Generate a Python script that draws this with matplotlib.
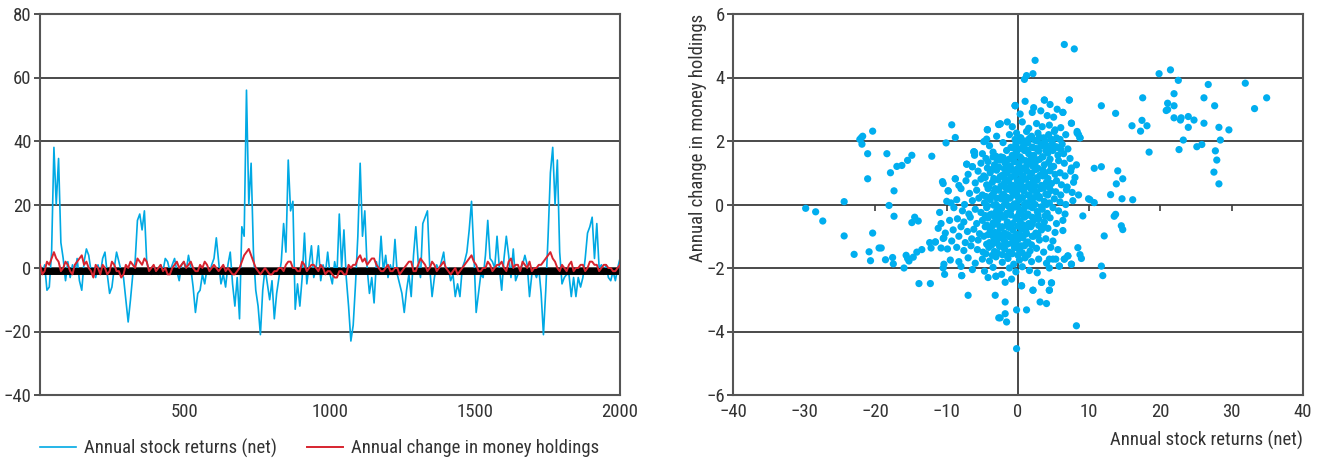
import numpy as np
import matplotlib
matplotlib.use("Agg")
import matplotlib.pyplot as plt

plt.rcParams["font.family"] = ["Roboto Condensed", "Archivo Narrow", "Liberation Sans Narrow", "DejaVu Sans"]

# ---- left panel: simulated series ----
blue_y = [
    1, -2, 1, -7, -6, 5, 38, 20, 34.5, 8,
    3, -4, 2, -3, 1, -2, 3, -4, -7, 2,
    6, 4, -1, 0, -3, 1, -2, 3, 5, -2,
    -8, -6, 0, 5, 2, -1, -3, -10, -17, -10,
    -2, 2, 15, 17, 12, 18, 2, -1, -2, 0,
    -1, -2, 1, -1, 3, 2, -1, 1, 3, -1,
    -4, 1, 2, -1, 4, 0, -6, -14, -8, -7,
    -2, -5, 0, -2, 1, 3, 9.5, 2, -5, -2,
    -6, 1, 5, -5, -12, -3, -16, 13, 10, 56,
    20, 33, 5, -7, -12, -21, -7, 0, -5, -10,
    -4, -16, -8, -3, 2, 14, 5, 34, 18, 21,
    -13, -5, -12, -3, 11, -5, 1, 7, -3, 0,
    7, -4, 1, -2, 5, -2, -5, 2, -2, 17,
    0, 12, -3, -12, -23, -18, -5, 10, 33, 10,
    18, 0, -8, -3, -11, 2, -2, 10, -1, 4,
    -3, 1, -2, 9, -2, -5, -8, -14, -7, -2,
    -9, 4, 13, 2, -3, 14, 16, 18, 0, -9,
    -3, 1, -1, 2, 5, -2, 0, -4, -2, -9,
    -5, -9, 0, 2, 5, 12, 21, 5, -14, -8,
    -2, -3, 4, 15, 3, 2, 0, 10, 0, -7,
    3, 10, 4, -3, 6, -4, -2, 0, 1, 4,
    1, -9, -2, -1, -3, 0, -8, -21, -7, 10,
    30, 38, 20, 34, 5, -5, -3, -2, -2, -9,
    -3, -9, -3, -6, -3, 3, 11, 13, 16, 3,
    14, 0, 1, -2, 1, -3, -4, -1, -4, 0,
    3,
]
red_y = [
    1, -2, -1, 2, 1, 3, 5, 3, 2, -1, 0, 2, 1, -1, -2, 1, 2, 3, 4, 1,
    2, 0, -1, -3, 1, 0, -2, 1, 0, -2, -1, 2, 1, -1, -1, -3, -2, 1, 0, 2,
    1, 0, 3, 2, 1, 3, 2, -1, 0, 1, -1, 0, 1, -1, 0, -2, -2, 0, 1, 2,
    0, 1, 2, 0, 1, 2, 0, -1, -1, 1, 0, 2, 1, -1, 0, 1, 0, -1, 0, 1,
    -1, 0, -1, -2, -2, -1, 0, 2, 4, 5, 6, 4, 2, 0, -1, -2, -1, 0, -1, -2,
    -2, -1, -1, 0, 0, -1, 1, 2, 2, 0, 0, -1, -1, 2, 1, -1, 0, 1, 1, 0,
    -1, 1, 0, -2, -1, -1, -2, -3, -3, -1, -1, -2, -2, 1, 0, 1, 1, 3, 4, 2,
    3, 1, 2, 3, 3, 1, 0, -1, -1, 0, 1, -1, -1, 0, 0, -2, -1, 0, 1, 2,
    2, -1, -1, 1, 3, 2, 1, -1, 0, 2, 1, -1, 0, 1, 2, 0, -1, -2, -1, 0,
    -2, -1, 0, 1, 2, 3, 4, 2, 1, -1, -1, 0, 0, 2, 1, -1, 0, 1, 1, 2,
    0, -1, 2, 3, 0, 1, 1, -1, 2, 1, 0, 2, -1, 0, 0, 1, 1, 2, 3, 4,
    5, 3, 2, 0, -1, 1, 0, -1, 1, 2, -1, 0, 0, 1, 1, -1, 0, 2, 2, 1,
    1, -1, 0, 1, 1, 0, 0, -1, -1, 0, 1,
]
blue_t = np.linspace(0, 2000, len(blue_y))
red_t = np.linspace(0, 2000, len(red_y))

# ---- right panel: scatter (stock returns vs money change) ----
stock_ret = [
    # outliers, left side
    -29.8, -28.4, -27.4, -24.4, -24.4, -23.0, -22.0, -21.8, -22.2, -21.9, -20.4, -21.1, -21.1,
    -20.4, -20.9, -20.7, -19.5, -19.2, -18.4, -18.6, -17.9, -17.6, -17.5, -18.1, -17.4, -17.4,
    -17.0, -16.3, -15.5, -14.9, -16.0, -15.7, -15.5, -15.3, -14.9, -14.5, -14.0, -14.7, -14.2,
    -13.5, -13.9, -12.3, -12.1, -12.4, -12.2, -11.6, -10.8, -10.5, -10.4, -10.5, -10.3, -9.3,
    -8.8, -10.1, -8.8, -9.8, -7.9, -7.0, -7.2, -6.1, -6.4, -4.8, -4.4, -4.3, -3.2, -3.1, -2.7,
    -2.7, -3.1, -6.2, -2.5, -0.4,
    # outliers, right / top / bottom
    6.5, 7.9, 2.4, 2.1, 1.2, 0.9, -0.4, 3.7, 7.2, 6.3, 7.5, 8.3, 8.7, 8.5, 11.7, 13.7, 10.7,
    11.7, 14.0, 14.7, 13.8, 13.0, 14.6, 16.1, 9.9, 10.1, 10.7, 9.1, 13.7, 13.5, 14.5, 14.7,
    12.1, 11.7, 11.9, 8.4, 8.7, 8.9, 8.2, -0.2, -0.2, 1.2, -1.6, -1.8, -2.5, -1.8, 3.1, 4.0,
    0.5, 2.1, 4.4, 4.7, 3.3, 5.8, 4.4, 4.9, 5.3, 6.5, 7.0, 7.5,
    # upper-right group
    19.8, 21.4, 22.5, 26.7, 31.9, 34.9, 33.2, 17.5, 21.9, 21.0, 21.9, 20.8, 21.0, 26.1, 27.6,
    21.9, 22.9, 22.8, 23.9, 24.7, 23.9, 26.1, 28.2, 29.6, 17.4, 17.2, 18.1, 16.0, 23.2, 22.6,
    25.1, 25.8, 28.4, 27.7, 27.9, 27.5, 28.2, 18.4,
    # main cloud
    -0.4, 1.0, 3.7, 4.5, 2.2, 5.5, 7.2,
    -2.7, 0.3, 2.0, 3.2, 4.1, 5.0, 6.3, -1.5,
    -4.3, -2.5, -0.8, 0.6, 1.5, 2.6, 3.4, 4.4, 5.2, 6.0, 7.5,
    -4.6, -3.0, -1.2, -0.2, 0.4, 1.2, 1.9, 2.8, 3.6, 4.3, 5.1, 5.9, 6.7, 8.3, 8.7,
    -6.2, -4.0, -2.1, -1.0, -0.3, 0.2, 0.8, 1.4, 2.1, 2.7, 3.3, 4.0, 4.8, 5.5, 6.2, 7.0,
    -6.1, -5.0, -3.5, -2.4, -1.6, -0.8, -0.2, 0.3, 0.9, 1.5, 2.2, 2.9, 3.5, 4.2, 4.9, 5.6, 6.4, 7.3,
    -7.2, -6.4, -5.2, -4.2, -3.3, -2.5, -1.8, -1.1, -0.5, 0.1, 0.6, 1.2, 1.8, 2.4, 3.0, 3.7, 4.3,
    5.0, 5.7, 6.5, 7.5, 8.2,
    -8.8, -7.0, -5.6, -4.8, -3.9, -3.0, -2.2, -1.5, -0.9, -0.3, 0.2, 0.7, 1.3, 1.9, 2.5, 3.1, 3.8,
    4.5, 5.2, 5.9, 6.6, 7.4, 8.0,
    -10.6, -10.5, -8.3, -7.3, -6.0, -5.2, -4.4, -3.6, -2.8, -2.0, -1.3, -0.7, -0.1, 0.4, 0.9, 1.5,
    2.1, 2.7, 3.3, 4.0, 4.7, 5.4, 6.1, 6.9, 7.8,
    -9.8, -8.0, -6.8, -5.8, -5.0, -4.2, -3.4, -2.7, -2.0, -1.4, -0.8, -0.2, 0.3, 0.8, 1.4, 2.0,
    2.6, 3.2, 3.9, 4.6, 5.3, 6.0, 6.8, 7.6, 8.5,
    -10.0, -9.4, -8.6, -7.5, -6.4, -5.5, -4.7, -3.9, -3.1, -2.4, -1.7, -1.1, -0.5, 0.1, 0.6, 1.2,
    1.8, 2.4, 3.0, 3.7, 4.4, 5.1, 5.9, 6.7, 7.7,
    -11.0, -9.0, -7.8, -6.9, -6.0, -5.2, -4.4, -3.7, -3.0, -2.3, -1.6, -1.0, -0.4, 0.2, 0.8, 1.4,
    2.0, 2.7, 3.4, 4.1, 4.9, 5.7, 6.6,
    -10.8, -9.6, -8.5, -7.6, -6.7, -5.8, -5.0, -4.2, -3.5, -2.8, -2.1, -1.5, -0.9, -0.3, 0.3, 0.9,
    1.5, 2.2, 2.9, 3.7, 4.5, 5.4, 6.3,
    -11.2, -10.2, -9.1, -8.0, -7.1, -6.2, -5.4, -4.6, -3.9, -3.2, -2.5, -1.9, -1.3, -0.7, -0.1, 0.5,
    1.1, 1.8, 2.5, 3.3, 4.2, 5.2, 6.3,
    -11.6, -10.4, -9.3, -8.3, -7.4, -6.5, -5.6, -4.8, -4.0, -3.3, -2.6, -1.9, -1.2, -0.6, 0.0, 0.7,
    1.4, 2.2, 3.0, 3.9, 4.9,
    -9.9, -8.6, -7.6, -6.6, -5.7, -4.9, -4.1, -3.3, -2.6, -1.9, -1.2, -0.5, 0.2, 0.9, 1.7, 2.6, 3.6,
    4.6, 5.6,
    -9.5, -8.3, -7.0, -6.0, -5.0, -4.0, -3.1, -2.2, -1.4, -0.6, 0.2, 1.0, 1.9, 2.9, 4.0, 6.5, 7.0, 7.5,
    -8.0, -6.4, -4.7, -3.5, -2.3, -1.2, -0.3, 0.6, 1.6, 2.7, 4.4, 5.8,
    -7.9, -4.2, -3.1, -1.8, -0.9, 0.5, 2.1, 3.3, 4.4, 4.7,
    # dense core
    -4.5, -3.5, -2.9, -2.1, -1.3, -0.5, 0.5, 1.1, 1.9, 2.6, 3.4, 4.5,
    -4.3, -3.7, -2.7, -1.9, -1.1, -0.3, 0.4, 1.0, 2.1, 2.8, 3.5, 4.7,
    -4.6, -3.4, -2.5, -1.8, -1.0, -0.6, 0.5, 1.1, 1.7, 2.6, 3.5, 4.2,
    -4.1, -3.2, -2.4, -1.7, -1.0, -0.4, 0.2, 1.0, 1.8, 2.4, 3.6, 4.4,
    -4.5, -3.7, -3.0, -2.3, -1.5, -0.6, 0.0, 0.6, 1.6, 2.3, 3.0, 4.2,
    -4.3, -3.4, -2.7, -1.9, -1.3, -0.7, 0.0, 0.9, 1.5, 2.2, 3.3, 4.0,
    -4.6, -3.9, -3.3, -2.5, -1.8, -1.0, -0.1, 0.5, 1.2, 2.0, 2.8, 3.8,
    -4.4, -3.6, -2.9, -2.2, -1.5, -0.7, 0.0, 0.7, 1.4, 2.0, 2.9, 3.6,
    -4.2, -3.5, -2.8, -2.0, -1.4, -0.8, -0.2, 0.4, 1.2, 2.0, 2.8,
    -4.4, -3.7, -2.9, -2.2, -1.5, -0.9, -0.2, 0.4, 1.1, 1.9,
    -4.5, -3.6, -2.9, -2.2, -1.5, -0.8, 0.0, 0.6, 1.4,
    -0.6, 0.1, 0.7, 1.3, 2.0, 2.6, 3.2, 3.9, 4.6, 5.3, 6.0,
    -0.4, 0.3, 1.0, 1.6, 2.4, 3.0, 3.8, 4.6, 5.4,
]
money_chg = [
    -0.12, -0.23, -0.52, 0.09, -0.99, -1.57, 2.10, 2.15, 2.05, 1.90, 2.31, 1.60, 0.81,
    -0.90, -1.49, -1.77, -1.37, -1.37, 1.60, -1.74, 1.00, -1.67, -1.87, -0.03, 0.43, -0.37,
    1.20, 1.23, 1.39, 1.55, -2.00, -1.60, -1.70, -1.78, -0.57, -0.40, -0.52, -1.66, -1.50,
    -1.42, -2.49, -2.49, 1.52, -1.20, -1.37, -1.18, -1.37, -1.07, -1.88, -2.00, -2.20, 2.51,
    2.11, 1.94, 0.81, 0.43, -2.24, -2.86, 1.27, 1.65, 1.19, 1.98, 2.06, 2.36, -2.86, -2.26, -3.57,
    2.52, 1.52, 1.66, 2.54, 3.12,
    5.04, 4.90, 4.54, 4.12, 4.06, 3.94, 3.11, 3.29, 3.29, 2.90, 2.56, 2.30, 2.10, 2.20, 3.11, 2.87, 1.14,
    1.19, 1.06, 0.81, 0.65, 0.31, 0.18, 0.15, 0.18, 0.15, 0.06, -0.36, -0.31, -0.37, -0.67, -0.79,
    -0.99, -1.94, -2.24, -1.36, -1.58, -1.70, -3.82, -4.54, -3.32, -3.32, -3.70, -3.44, -3.57, -3.07, -3.07, -3.12,
    -2.56, -2.70, -2.70, -2.47, -2.45, -1.94, -1.72, -1.72, -1.72, -1.72, -1.62, -1.88,
    4.12, 4.24, 3.91, 3.78, 3.82, 3.36, 3.02, 3.36, 3.49, 3.19, 3.11, 2.96, 2.99, 3.36, 3.11,
    2.73, 2.73, 2.66, 2.77, 2.66, 2.43, 2.56, 2.43, 2.35, 2.65, 2.31, 2.48, 2.48, 2.03, 1.73,
    1.82, 1.89, 2.03, 1.69, 1.40, 1.02, 0.65, 1.65,
    3.11, 3.25, 3.29, 3.15, 3.05, 3.00, 3.29,
    2.52, 2.85, 2.90, 2.95, 2.80, 2.75, 2.90, 2.60,
    2.35, 2.54, 2.45, 2.60, 2.40, 2.55, 2.45, 2.50, 2.35, 2.42, 2.56,
    2.00, 2.15, 2.20, 2.25, 2.10, 2.30, 2.15, 2.25, 2.10, 2.20, 2.30, 2.05, 2.20, 2.25, 2.10,
    1.66, 1.85, 1.95, 1.80, 1.92, 2.00, 1.85, 1.95, 1.80, 2.00, 1.90, 1.85, 1.95, 1.80, 1.90, 1.75,
    1.55, 1.60, 1.65, 1.50, 1.70, 1.55, 1.65, 1.50, 1.70, 1.60, 1.55, 1.68, 1.50, 1.62, 1.70, 1.55, 1.60, 1.45,
    1.27, 1.19, 1.30, 1.35, 1.25, 1.40, 1.30, 1.20, 1.35, 1.28, 1.40, 1.22, 1.35, 1.30, 1.42, 1.25, 1.33,
    1.20, 1.38, 1.30, 1.15, 1.25,
    0.81, 0.95, 1.05, 0.90, 1.00, 1.08, 0.92, 1.00, 1.10, 0.95, 1.02, 0.90, 1.05, 0.98, 1.10, 0.92, 1.00,
    1.06, 0.95, 1.00, 0.90, 1.05, 0.85,
    0.72, 0.66, 0.60, 0.75, 0.68, 0.80, 0.62, 0.70, 0.78, 0.65, 0.72, 0.60, 0.75, 0.68, 0.80, 0.63,
    0.72, 0.77, 0.60, 0.70, 0.66, 0.75, 0.62, 0.55, 0.70,
    0.43, 0.50, 0.35, 0.45, 0.30, 0.50, 0.38, 0.45, 0.32, 0.48, 0.40, 0.35, 0.50, 0.42, 0.30, 0.45,
    0.38, 0.50, 0.33, 0.44, 0.40, 0.30, 0.46, 0.38, 0.30,
    0.10, 0.05, 0.15, 0.00, 0.12, 0.20, 0.05, 0.15, 0.00, 0.18, 0.08, 0.20, 0.02, 0.12, 0.22, 0.05,
    0.15, 0.00, 0.20, 0.10, 0.05, 0.18, 0.08, 0.00, 0.12,
    -0.25, -0.10, -0.20, -0.30, -0.15, -0.25, -0.10, -0.30, -0.20, -0.12, -0.28, -0.18, -0.08, -0.25, -0.15, -0.30,
    -0.10, -0.22, -0.15, -0.28, -0.10, -0.20, -0.30,
    -0.60, -0.50, -0.45, -0.55, -0.40, -0.60, -0.50, -0.42, -0.58, -0.48, -0.40, -0.55, -0.62, -0.45, -0.52, -0.40,
    -0.60, -0.50, -0.45, -0.55, -0.42, -0.60, -0.50,
    -0.75, -0.90, -0.80, -0.70, -0.85, -0.78, -0.92, -0.70, -0.82, -0.88, -0.75, -0.90, -0.72, -0.80, -0.95, -0.78,
    -0.85, -0.70, -0.90, -0.80, -0.75, -0.88, -0.82,
    -1.18, -1.05, -1.15, -1.00, -1.20, -1.08, -1.12, -1.00, -1.20, -1.10, -1.05, -1.15, -1.02, -1.20, -1.10, -1.05,
    -1.18, -1.00, -1.12, -1.08, -1.15,
    -1.40, -1.35, -1.45, -1.30, -1.42, -1.50, -1.35, -1.48, -1.32, -1.40, -1.50, -1.36, -1.44, -1.30, -1.46, -1.38, -1.50,
    -1.35, -1.42,
    -1.75, -1.80, -1.68, -1.85, -1.72, -1.78, -1.65, -1.82, -1.70, -1.88, -1.75, -1.68, -1.80, -1.72, -1.85, -1.72, -1.62, -1.88,
    -1.95, -2.05, -2.10, -1.98, -2.20, -2.00, -2.12, -1.96, -2.08, -2.15, -2.00, -1.94,
    -2.24, -2.30, -2.26, -2.45, -2.35, -2.56, -2.70, -2.45, -2.70, -2.47,
    1.45, 1.50, 1.40, 1.48, 1.42, 1.50, 1.44, 1.38, 1.47, 1.40, 1.50, 1.43,
    1.15, 1.10, 1.18, 1.12, 1.20, 1.10, 1.16, 1.10, 1.20, 1.14, 1.08, 1.18,
    0.85, 0.82, 0.88, 0.80, 0.86, 0.90, 0.83, 0.80, 0.88, 0.84, 0.90, 0.82,
    0.55, 0.50, 0.58, 0.52, 0.56, 0.50, 0.60, 0.54, 0.50, 0.58, 0.52, 0.55,
    0.25, 0.28, 0.20, 0.26, 0.22, 0.30, 0.24, 0.20, 0.28, 0.22, 0.25, 0.30,
    -0.05, -0.02, -0.08, 0.00, -0.06, -0.03, -0.08, 0.00, -0.05, -0.02, -0.07, 0.00,
    -0.35, -0.32, -0.38, -0.30, -0.36, -0.33, -0.38, -0.30, -0.35, -0.40, -0.32, -0.36,
    -0.65, -0.68, -0.62, -0.70, -0.66, -0.60, -0.68, -0.64, -0.70, -0.62, -0.66, -0.70,
    -0.95, -1.00, -0.92, -0.98, -0.95, -1.02, -0.94, -0.98, -0.92, -1.00, -0.96,
    -1.25, -1.28, -1.22, -1.30, -1.25, -1.22, -1.28, -1.30, -1.24, -1.27,
    -1.55, -1.60, -1.52, -1.58, -1.62, -1.55, -1.60, -1.52, -1.58,
    1.78, 1.75, 1.82, 1.72, 1.80, 1.76, 1.84, 1.70, 1.78, 1.82, 1.74,
    2.05, 2.10, 2.00, 2.08, 2.02, 2.12, 2.00, 2.06, 2.10,
]
n = min(len(stock_ret), len(money_chg))

BLUE = "#00a9e4"
RED = "#d7242f"
GRID = "#3c3c3c"
TXT = "#333333"
FS = 13.5

fig = plt.figure(figsize=(13.25, 4.62), dpi=100)
ax1 = fig.add_axes([40 / 1325, 1 - 395 / 462, 580 / 1325, 381 / 462])
ax2 = fig.add_axes([733 / 1325, 1 - 395 / 462, 570 / 1325, 381 / 462])

# left: time series
l1, = ax1.plot(blue_t, blue_y, color=BLUE, lw=1.2, zorder=2)
ax1.axhline(-1, color="black", lw=5, zorder=2.5)
l2, = ax1.plot(red_t, red_y, color=RED, lw=1.4, zorder=3)
ax1.set_xlim(0, 2000)
ax1.set_ylim(-40, 80)
ax1.set_xticks([500, 1000, 1500, 2000])
ax1.set_yticks(range(-40, 81, 20))
ax1.tick_params(axis="x", length=0, pad=6, labelsize=FS, colors=TXT)
ax1.tick_params(axis="y", length=4, width=1.2, direction="out", pad=2, labelsize=FS, colors=TXT)
ax1.yaxis.grid(True, color=GRID, lw=1.3)

# right: scatter
ax2.scatter(stock_ret[:n], money_chg[:n], s=27, color="#00aeef", edgecolors="none", zorder=3)
ax2.axvline(0, color=GRID, lw=1.3, zorder=2)
ax2.set_xlim(-40, 40)
ax2.set_ylim(-6, 6)
ax2.set_xticks(range(-40, 41, 10))
ax2.set_yticks(range(-6, 7, 2))
ax2.tick_params(axis="x", length=0, pad=6, labelsize=FS, colors=TXT)
ax2.tick_params(axis="y", length=4, width=1.2, direction="out", pad=2, labelsize=FS, colors=TXT)
ax2.yaxis.grid(True, color=GRID, lw=1.3)
# small tick marks hanging below the zero line
zero_ax = ax2.secondary_xaxis(0.5)
zero_ax.set_xticks([-30, -20, -10, 10, 20, 30])
zero_ax.xaxis.set_ticks_position("bottom")
zero_ax.tick_params(length=4, width=1.2, direction="out", color=GRID,
                    labelbottom=False, labeltop=False)
for sp in zero_ax.spines.values():
    sp.set_visible(False)

ax2.set_xlabel("Annual stock returns (net)", fontsize=FS, color=TXT, loc="right")
ax2.xaxis.set_label_coords(1.0, -0.095)
ax2.set_ylabel("Annual change in money holdings", fontsize=FS, color=TXT, loc="top")
ax2.yaxis.set_label_coords(-0.045, 1.0)

for ax in (ax1, ax2):
    ax.set_axisbelow(True)
    for sp in ax.spines.values():
        sp.set_color("#555555")
        sp.set_linewidth(1.5)

fig.legend([l1, l2], ["Annual stock returns (net)", "Annual change in money holdings"],
           loc="center left", bbox_to_anchor=(40 / 1325, 1 - 448 / 462), ncol=2,
           frameon=False, fontsize=FS, handlelength=1.9, handletextpad=0.45,
           columnspacing=1.6, borderpad=0, borderaxespad=0, labelcolor=TXT)

fig.savefig("out.png", dpi=100)
